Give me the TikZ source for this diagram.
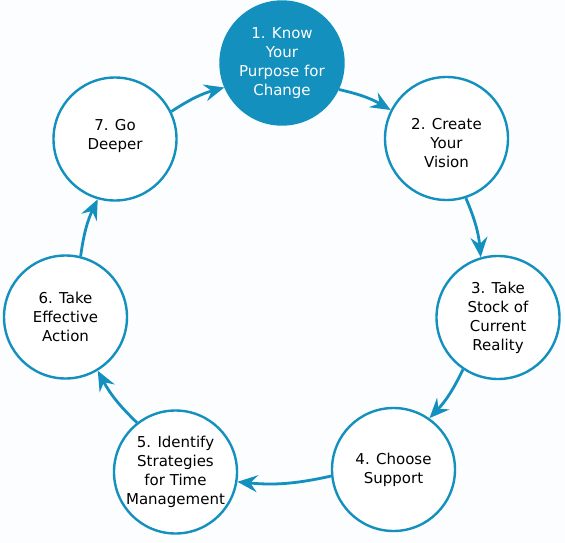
\documentclass[tikz,border=0pt]{standalone}
\usepackage{fontspec}
\setmainfont{DejaVu Sans}
\usetikzlibrary{arrows.meta}
\definecolor{cblue}{HTML}{1390BE}
\definecolor{bgc}{HTML}{FBFDFE}
\begin{document}
\begin{tikzpicture}[x=1pt,y=-1pt,
  stepfont/.style={align=center, font=\fontsize{15}{19}\selectfont},
  stepcirc/.style={circle, draw=cblue, line width=2.4pt, minimum size=123pt, inner sep=0pt,
    stepfont, fill=white, text=black},
  firstcirc/.style={stepcirc, fill=cblue, text=white},
  flow/.style={draw=cblue, line width=2.8pt, -{Stealth[length=20pt,width=17pt,inset=7pt]}, bend left=9}
]
\fill[bgc] (0,0) rectangle (565,543);
\useasboundingbox (0,0) rectangle (565,543);
\node[firstcirc] (n1) at (282,63) {1. Know\\Your\\Purpose for\\Change};
\node[stepcirc, label={[stepfont, yshift=-5pt]center:2. Create\\Your\\Vision}] (n2) at (446.5,138.5) {};
\node[stepcirc] (n3) at (498,317.5) {3. Take\\Stock of\\Current\\Reality};
\node[stepcirc] (n4) at (393.5,469.5) {4. Choose\\Support};
\node[stepcirc] (n5) at (175.5,472) {5. Identify\\Strategies\\for Time\\Management};
\node[stepcirc] (n6) at (65.5,317) {6. Take\\Effective\\Action};
\node[stepcirc, label={[stepfont, yshift=3pt]center:7. Go\\Deeper}] (n7) at (115,139) {};
\draw[flow] (n1.-25.7) to (n2.153.6);
\draw[flow] (n2.-72.1) to (n3.106.6);
\draw[flow] (n3.236.6) to (n4.55.7);
\draw[flow] (n4.186.7) to (n5.-9.8);
\draw[flow] (n5.128.3) to (n6.-59.4);
\draw[flow] (n6.76.8) to (n7.-106.4);
\draw[flow] (n7.26.6) to (n1.203);
\end{tikzpicture}
\end{document}
